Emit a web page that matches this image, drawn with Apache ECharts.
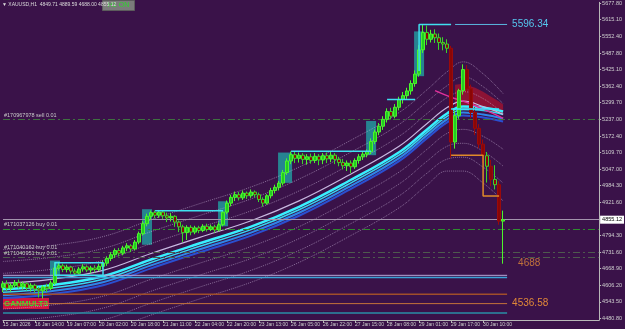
<!DOCTYPE html>
<html>
<head>
<meta charset="utf-8">
<script src="https://cdn.jsdelivr.net/npm/echarts@6/dist/echarts.min.js"></script>
<style>
  html, body { margin: 0; padding: 0; background: #3a1249; }
  #chart { width: 625px; height: 329px; }
</style>
</head>
<body>
<div id="chart"></div>
<script>
// ---- data ----
const tickLabels = ['15 Jan 2026', '16 Jan 14:00', '19 Jan 07:00', '20 Jan 02:00', '20 Jan 18:00', '21 Jan 11:00',
  '22 Jan 04:00', '22 Jan 20:00', '23 Jan 13:00', '26 Jan 05:00', '26 Jan 22:00', '27 Jan 15:00',
  '28 Jan 08:00', '29 Jan 01:00', '29 Jan 17:00', '30 Jan 10:00']
const priceTicks = [4480.8, 4543.5, 4606.2, 4668.9, 4731.6, 4794.3, 4921.6, 4984.3, 5047.0, 5109.7,
  5172.4, 5237.0, 5299.7, 5362.4, 5425.1, 5487.8, 5552.4, 5615.1, 5677.8]

// [open, close, low, high]
const candles = [
  [4598, 4612, 4580, 4622], [4612, 4595, 4584, 4625], [4595, 4606, 4582, 4614], [4606, 4616, 4596, 4626],
  [4616, 4600, 4594, 4628], [4600, 4612, 4590, 4620], [4612, 4596, 4586, 4618], [4596, 4606, 4582, 4614],
  [4606, 4592, 4578, 4612], [4592, 4585, 4560, 4600], [4585, 4600, 4556, 4606], [4600, 4594, 4580, 4612],
  [4594, 4615, 4588, 4624],
  [4615, 4672, 4608, 4690], [4672, 4680, 4662, 4692], [4680, 4666, 4656, 4688], [4666, 4675, 4655, 4684],
  [4675, 4660, 4650, 4680], [4660, 4652, 4644, 4670], [4652, 4668, 4648, 4676], [4668, 4676, 4658, 4686],
  [4676, 4664, 4656, 4682], [4664, 4672, 4652, 4680], [4672, 4666, 4655, 4682], [4666, 4678, 4660, 4688],
  [4678, 4690, 4668, 4700],
  [4690, 4708, 4680, 4716], [4708, 4722, 4698, 4732], [4722, 4738, 4710, 4746], [4738, 4728, 4716, 4748],
  [4728, 4748, 4720, 4756], [4748, 4756, 4736, 4766], [4756, 4744, 4732, 4762], [4744, 4770, 4738, 4778],
  [4770, 4802, 4762, 4810], [4802, 4840, 4795, 4850], [4840, 4868, 4830, 4878], [4868, 4882, 4856, 4890],
  [4882, 4872, 4860, 4890], [4872, 4884, 4862, 4892], [4884, 4870, 4858, 4890], [4870, 4862, 4846, 4882],
  [4862, 4868, 4848, 4880], [4868, 4846, 4828, 4872], [4846, 4828, 4808, 4852], [4828, 4806, 4770, 4836],
  [4806, 4826, 4778, 4834], [4826, 4808, 4796, 4834], [4808, 4824, 4800, 4832], [4824, 4814, 4804, 4832],
  [4814, 4830, 4808, 4838], [4830, 4818, 4810, 4840], [4818, 4828, 4812, 4836], [4828, 4816, 4806, 4836],
  [4816, 4836, 4810, 4845],
  [4836, 4884, 4830, 4892], [4884, 4918, 4876, 4928], [4918, 4940, 4906, 4950], [4940, 4950, 4926, 4962],
  [4950, 4938, 4928, 4960], [4938, 4956, 4930, 4966], [4956, 4946, 4934, 4962], [4946, 4960, 4938, 4970],
  [4960, 4950, 4940, 4966], [4950, 4932, 4922, 4958], [4932, 4918, 4905, 4940], [4918, 4946, 4912, 4952],
  [4946, 4966, 4936, 4976], [4966, 4978, 4955, 4988], [4978, 4994, 4966, 5002],
  [4994, 5034, 4985, 5044], [5034, 5078, 5025, 5088], [5078, 5102, 5066, 5114], [5102, 5088, 5070, 5112],
  [5088, 5100, 5072, 5110], [5100, 5084, 5066, 5108], [5084, 5094, 5064, 5104], [5094, 5080, 5068, 5106],
  [5080, 5096, 5070, 5108], [5096, 5082, 5062, 5104], [5082, 5098, 5066, 5108], [5098, 5086, 5070, 5110],
  [5086, 5100, 5074, 5112], [5100, 5084, 5066, 5108], [5084, 5072, 5058, 5094], [5072, 5060, 5046, 5086],
  [5060, 5070, 5040, 5080], [5070, 5056, 5032, 5080], [5056, 5080, 5048, 5088], [5080, 5094, 5068, 5104],
  [5094, 5104, 5082, 5112], [5104, 5114, 5092, 5122],
  [5114, 5152, 5104, 5164], [5152, 5188, 5142, 5198], [5188, 5210, 5176, 5222], [5210, 5236, 5196, 5248],
  [5236, 5266, 5224, 5278], [5266, 5248, 5236, 5280], [5248, 5282, 5240, 5294], [5282, 5312, 5270, 5322],
  [5312, 5326, 5296, 5340], [5326, 5344, 5314, 5356], [5344, 5372, 5330, 5384], [5372, 5408, 5360, 5422],
  [5408, 5500, 5398, 5518], [5500, 5566, 5488, 5596.34], [5566, 5540, 5518, 5592], [5540, 5560, 5528, 5576],
  [5560, 5546, 5526, 5578], [5546, 5528, 5500, 5562], [5528, 5522, 5498, 5548], [5522, 5506, 5488, 5540],
  [5506, 5150, 5090, 5515], [5150, 5250, 5125, 5270], [5250, 5345, 5238, 5352], [5345, 5425, 5330, 5445],
  [5425, 5352, 5338, 5442], [5352, 5262, 5240, 5368], [5262, 5202, 5176, 5282], [5202, 5142, 5126, 5218],
  [5142, 5098, 5070, 5160], [5098, 5058, 4996, 5112], [5058, 5008, 4982, 5082], [5008, 4988, 4970, 5062],
  [4988, 4849.71, 4836, 5002], [4849.71, 4855.12, 4688.00, 4889.59]
]

// moving-average band and envelope lines, sampled at these bar indices
const maIdx = [0, 12, 25, 37, 49, 62, 74, 86, 99, 106, 111, 115, 120, 125]
const maTop = [4613.8, 4628.8, 4662.8, 4726.8, 4787.1, 4851.2, 4926.6, 5020.8, 5133.9, 5220.6, 5280.9, 5305, 5285, 5255]
const maMain = [4591.2, 4606.2, 4640.2, 4704.2, 4764.5, 4828.6, 4904.0, 4998.2, 5111.3, 5197.9, 5258.3, 5284.6, 5280.9, 5265.8]
const maMid = [4579.9, 4594.9, 4628.8, 4692.9, 4753.2, 4817.3, 4892.7, 4986.9, 5100.0, 5186.7, 5247.0, 5273.3, 5269.6, 5254.5]
const maBlue = [4568.6, 4583.6, 4617.5, 4681.6, 4741.9, 4806.0, 4881.4, 4975.6, 5088.7, 5175.4, 5235.7, 5262.0, 5254.5, 5239.4]
const maDeep = [4557.4, 4572.3, 4606.2, 4670.3, 4730.6, 4794.7, 4870.1, 4964.3, 5077.4, 5164.1, 5224.4, 5250.7, 5243.2, 5228.1]
const envU1 = [4651.5, 4666.5, 4700.5, 4764.5, 4824.8, 4888.9, 4964.3, 5058.5, 5171.6, 5258.3, 5318.6, 5341.2, 5314.8, 5258.3]
const envU2 = [4696.7, 4711.8, 4745.7, 4809.8, 4870.1, 4934.1, 5009.5, 5103.7, 5216.8, 5303.5, 5363.8, 5397.7, 5360.0, 5296.0]
const envU3 = [4741.9, 4757.0, 4790.9, 4855.0, 4915.3, 4979.4, 5054.7, 5149.0, 5262.0, 5348.7, 5416.6, 5454.3, 5409.0, 5333.7]
const envL1 = [4515.8, 4530.9, 4564.8, 4628.9, 4689.2, 4753.2, 4828.6, 4922.8, 5035.9, 5122.6, 5182.9, 5198.0, 5171.6, 5122.6]
const envL2 = [4470.6, 4485.6, 4519.5, 4583.6, 4643.9, 4708.0, 4783.4, 4877.6, 4990.7, 5077.4, 5133.9, 5145.2, 5115.0, 5058.5]
const envL3 = [4425.3, 4440.4, 4474.3, 4538.4, 4598.7, 4662.8, 4738.1, 4832.4, 4945.4, 5032.1, 5084.9, 5092.4, 5054.7, 4994.4]
const envL4 = [4380.1, 4395.2, 4429.1, 4493.2, 4553.5, 4617.5, 4692.9, 4787.1, 4900.2, 4986.9, 5039.7, 5039.7, 4994.4, 4926.6]

// red band after the top
const bandIdx = [113, 115, 118, 120, 122, 124, 125]
const bandTop = [5367.6, 5371.3, 5356.3, 5341.2, 5322.3, 5303.5, 5292.2]
const bandBottom = [5277.1, 5277.1, 5273.3, 5269.6, 5265.8, 5258.3, 5254.5]
const magentaIdx = [108, 112, 116, 120, 123, 125]
const magentaVals = [5345, 5320, 5300, 5275, 5255, 5240]

// [startBar, endBar, low, high]
const tealBoxes = [[12, 14, 4640, 4700], [35, 37, 4760, 4895], [54, 56, 4830, 4925],
  [69, 72, 4995, 5110], [91, 93, 5100, 5230], [103, 105, 5400, 5570]]
const rangeBox = [13, 25, 4643.9, 4692]
// [startBar, endBar, price]
const stepLevels = [[38, 55, 4889], [72, 92, 5115], [96, 103, 5311]]
const topStep = [[104, 5420], [104, 5596.34], [112, 5596.34]]
const highLine = [113, 126, 5596.34]
const flatMa = [112, 124, 5275.2]
const orangeStep = [[112, 5100], [120, 5100], [120, 4945], [124, 4945]]

const levelPrices = [4643.9, 4635.3, 4572.0, 4536.58, 4500.5]
const levelEnd = 126
const orderNames = ['#170967978 sell 0.01', '#171037126 buy 0.01', '#171040162 buy 0.01', '#171040951 buy 0.01']
const orderPrices = [5235, 4820, 4733, 4713]
const bidPrice = 4855.12
const lowPrice = 4688
const header = '▼ XAUUSD,H1  4849.71 4889.59 4688.00 4855.12'

// ---- chart ----
const cats = Array.from({ length: 150 }, (_, i) => String(i))
const pts = (idx, vals) => idx.map((x, k) => [x, vals[k]])
const FONT = 'Liberation Sans, Arial, sans-serif'

const line = (data, color, width, type, z, smooth) => ({
  type: 'line', data, symbol: 'none', smooth: smooth || false, silent: true,
  lineStyle: { color, width, type: type || 'solid' }, z,
})

const series = []

// teal breakout boxes
series.push({
  type: 'custom', z: 1, silent: true,
  data: tealBoxes,
  encode: { x: [0, 1], y: [2, 3] },
  renderItem: (params, api) => {
    const a = api.coord([api.value(0), api.value(3)])
    const b = api.coord([api.value(1), api.value(2)])
    return { type: 'rect', shape: { x: a[0] - 1, y: a[1], width: b[0] - a[0] + 2, height: b[1] - a[1] },
      style: { fill: 'rgba(32,170,170,0.75)' } }
  },
})
// range rectangle outline
series.push({
  type: 'custom', z: 6, silent: true,
  data: [rangeBox],
  encode: { x: [0, 1], y: [2, 3] },
  renderItem: (params, api) => {
    const a = api.coord([api.value(0), api.value(3)])
    const b = api.coord([api.value(1), api.value(2)])
    return { type: 'rect', shape: { x: a[0], y: a[1], width: b[0] - a[0], height: b[1] - a[1] },
      style: { fill: 'none', stroke: '#3fe0f0', lineWidth: 1.5 } }
  },
})
// red band
series.push({
  type: 'custom', z: 2, silent: true,
  data: [[bandIdx[0], bandTop[0]]],
  renderItem: (params, api) => {
    const p = bandIdx.map((x, k) => api.coord([x, bandTop[k]]))
    for (let k = bandIdx.length - 1; k >= 0; k--) p.push(api.coord([bandIdx[k], bandBottom[k]]))
    return { type: 'polygon', shape: { points: p }, style: { fill: 'rgba(175,20,45,0.7)' } }
  },
})

// envelopes
;[envU3, envU2, envU1, envL1, envL2, envL3, envL4].forEach(v =>
  series.push(line(pts(maIdx, v), 'rgba(200,180,215,0.55)', 1, 'dotted', 2, 0.4)))

// MA band
series.push(line(pts(maIdx, maDeep), '#2a4fd0', 2, 'solid', 3, 0.4))
series.push(line(pts(maIdx, maBlue), '#2f86e8', 2, 'solid', 3, 0.4))
series.push(line(pts(maIdx, maMid), '#36d8f0', 1.5, 'solid', 3, 0.4))
series.push(line(pts(maIdx, maMain), '#39f0ff', 2.5, 'solid', 3, 0.4))
series.push(line(pts(maIdx, maTop), '#c8b8e0', 1.2, 'solid', 3, 0.4))
series.push(line(pts(magentaIdx, magentaVals), '#e0309a', 1.5, 'solid', 4, 0.4))

// candles: small bear bars keep green wicks, big drops show dark red all through
const candleItems = candles.map(c => (c[0] - c[1] > 40
  ? { value: c, itemStyle: { borderColor0: '#9a0a0a' } }
  : c))
series.push({
  type: 'candlestick', data: candleItems, barWidth: 4, z: 5, silent: true,
  itemStyle: { color: '#22cc22', color0: '#8a0606', borderColor: '#4cf52c', borderColor0: '#3cd42a', borderWidth: 1 },
  markLine: {
    symbol: 'none', silent: true, animation: false,
    data: [
      ...orderPrices.map((p, k) => ({
        yAxis: p,
        lineStyle: { color: k === 0 ? '#3f7040' : (k === 1 ? '#2f8a2f' : '#4e5a4e'), width: 1, type: [7, 3, 2, 3] },
        label: { show: true, position: 'insideStartTop', distance: 1, formatter: orderNames[k],
          color: '#c9c9c9', fontSize: 5.5, fontFamily: FONT },
      })),
      {
        yAxis: bidPrice,
        lineStyle: { color: '#a394ad', width: 1, type: 'solid' },
        label: { show: true, position: 'end', distance: 1, formatter: bidPrice.toFixed(2),
          backgroundColor: '#ffffff', color: '#000', padding: [1, 2], fontSize: 5.5, fontFamily: FONT },
      },
    ],
  },
})

// step / level lines
stepLevels.forEach(s => series.push(line([[s[0], s[2]], [s[1], s[2]]], '#3fe0f0', 1.5, 'solid', 6)))
series.push(line(topStep, '#3fe0f0', 1.5, 'solid', 6))
series.push(line([[flatMa[0], flatMa[2]], [flatMa[1], flatMa[2]]], '#39e8ff', 1.5, 'solid', 6))
series.push(line(orangeStep, '#e08a2a', 1.5, 'solid', 6))
series.push(Object.assign(line([[highLine[0], highLine[2]], [highLine[1], highLine[2]]], '#5ab8e0', 1, 'solid', 6), {
  endLabel: { show: true, formatter: highLine[2].toFixed(2), color: '#55c6ee', fontSize: 10, fontFamily: FONT, distance: 5 },
}))
const levelColors = ['#b8a8d8', '#3aa2d6', '#a04e2a', '#c4723a', '#2a8fa6']
const levelWidths = [1, 1.5, 1.5, 1, 1.5]
levelPrices.forEach((p, k) => {
  const s = line([[0, p], [levelEnd, p]], levelColors[k], levelWidths[k], 'solid', 4)
  if (k === 3) s.endLabel = { show: true, formatter: p.toFixed(2), color: '#e08838', fontSize: 10, fontFamily: FONT, distance: 5 }
  series.push(s)
})
// low label
series.push({
  type: 'scatter', data: [[128, lowPrice]], symbolSize: 0, silent: true, z: 7,
  label: { show: true, position: 'right', distance: 3, formatter: String(lowPrice), color: '#e08838', fontSize: 10, fontFamily: FONT },
})

const chart = echarts.init(document.getElementById('chart'))
chart.setOption({
  animation: false,
  backgroundColor: '#3a1249',
  grid: { left: 1, right: 22, top: 0, bottom: 9 },
  xAxis: {
    type: 'category', data: cats, boundaryGap: false,
    axisLine: { lineStyle: { color: '#b8b8b8', width: 1 } },
    axisTick: { interval: i => i % 8 === 0 && i / 8 < tickLabels.length, length: 3, lineStyle: { color: '#b8b8b8' } },
    axisLabel: {
      interval: i => i % 8 === 0 && i / 8 < tickLabels.length,
      formatter: (v, i) => tickLabels[i / 8] || '',
      align: 'left', margin: 2, color: '#cfcfcf', fontSize: 5, fontFamily: FONT,
    },
    splitLine: { show: false },
  },
  yAxis: {
    type: 'value', position: 'right', min: 4474.3, max: 5680.4, scale: true,
    axisLine: { show: true, lineStyle: { color: '#b8b8b8', width: 1 } },
    axisTick: { show: true, customValues: priceTicks, length: 2, lineStyle: { color: '#b8b8b8' } },
    axisLabel: { customValues: priceTicks, formatter: v => v.toFixed(2), margin: 3, color: '#cfcfcf', fontSize: 5.5, fontFamily: FONT },
    splitLine: { show: false },
  },
  graphic: [
    { type: 'text', left: 2, top: 2, z: 100, style: { text: header, fill: '#dcdcdc', font: '5px ' + FONT } },
    { type: 'group', left: 102, top: 0, z: 100, children: [
      { type: 'rect', shape: { x: 0, y: 0, width: 32, height: 10 }, style: { fill: '#7b7b7b', stroke: '#5c5c5c', lineWidth: 1 } },
      { type: 'text', x: 16, y: 5, style: { text: 'H1 ON', fill: '#2ed62e', font: '7px ' + FONT, align: 'center', verticalAlign: 'middle' } },
    ] },
    { type: 'group', left: 3, top: 298, z: 100, children: [
      { type: 'rect', shape: { x: 0, y: 0, width: 46, height: 11 }, style: { fill: '#d41440' } },
      { type: 'text', x: 23, y: 5.5, style: { text: 'GANMULT3', fill: '#2ee62e', font: 'bold 8px ' + FONT, align: 'center', verticalAlign: 'middle' } },
    ] },
  ],
  series,
})
</script>
</body>
</html>
